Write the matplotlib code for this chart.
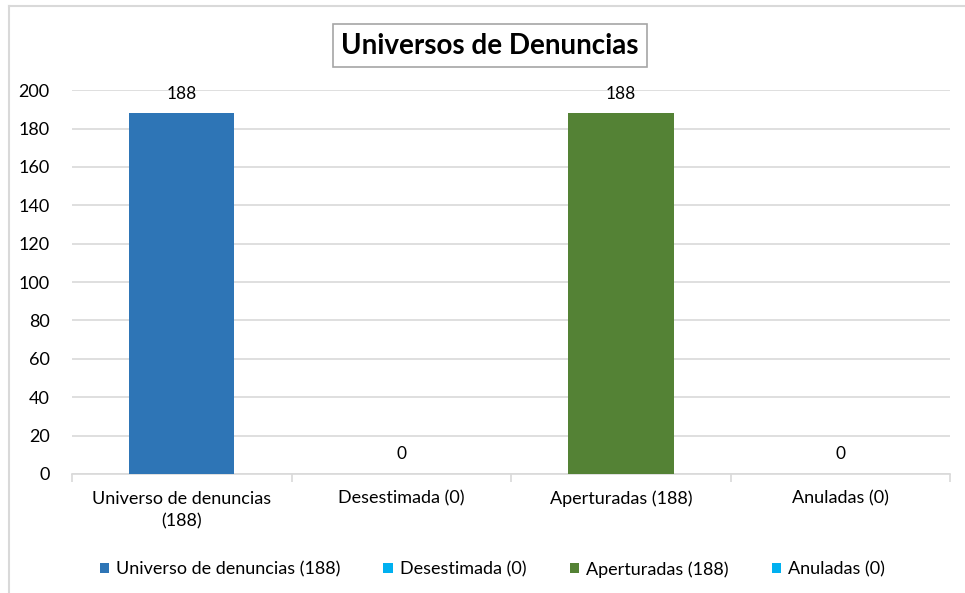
import matplotlib.pyplot as plt
from matplotlib.lines import Line2D
from matplotlib.patches import Patch

categories = ["Universo de denuncias\n(188)", "Desestimada (0)", "Aperturadas (188)", "Anuladas (0)"]
legend_labels = ["Universo de denuncias (188)", "Desestimada (0)", "Aperturadas (188)", "Anuladas (0)"]
values = [188, 0, 188, 0]
colors = ["#2E75B6", "#00B0F0", "#548235", "#00B0F0"]

plt.rcParams['font.family'] = ['Lato', 'DejaVu Sans']

fig = plt.figure(figsize=(9.65, 5.93), dpi=100)
ax = fig.add_axes([0.0746, 0.2007, 0.91, 0.6473])

x = range(len(values))
bars = ax.bar(x, values, width=0.48, color=colors, zorder=3)
for i, v in enumerate(values):
    ax.text(i, v + 6, str(v), ha='center', va='bottom', fontsize=12.5, color='#000000')

ax.set_xlim(-0.5, 3.5)
ax.set_ylim(0, 200)
ax.set_yticks(range(0, 201, 20))
ax.yaxis.grid(True, color='#D9D9D9', linewidth=1.2, zorder=0)
for s in ['top', 'right', 'left']:
    ax.spines[s].set_visible(False)
ax.spines['bottom'].set_color('#D9D9D9')
ax.spines['bottom'].set_linewidth(1.2)
ax.tick_params(axis='y', length=0, labelsize=13, pad=16)
ax.set_xticks([i - 0.5 for i in range(5)], minor=False)
ax.set_xticklabels([])
ax.tick_params(axis='x', which='major', length=6, color='#D9D9D9', width=1.2)
ax.set_xticks(list(x), minor=True)
ax.set_xticklabels(categories, minor=True, fontsize=13, linespacing=1.5)
ax.tick_params(axis='x', which='minor', length=0, pad=12)

# title box
fig.text(0.508, 0.923, "Universos de Denuncias", ha='center', va='center', fontsize=20,
         fontweight='bold',
         bbox=dict(boxstyle='square,pad=0.3', facecolor='white', edgecolor='#A6A6A6', linewidth=1.2))

# legend
handles = [Patch(facecolor=c) for c in colors]
fig.legend(handles, legend_labels, loc='center', bbox_to_anchor=(0.51, 0.04), ncol=4,
           frameon=False, fontsize=13, handlelength=0.5, handleheight=0.5,
           handletextpad=0.4, columnspacing=2.4)

# chart border (left and top)
fig.add_artist(Line2D([0.009, 0.009], [0, 0.99], color='#D9D9D9', linewidth=1.5))
fig.add_artist(Line2D([0.009, 1.0], [0.99, 0.99], color='#D9D9D9', linewidth=1.5))

fig.savefig("out.png", dpi=100)
